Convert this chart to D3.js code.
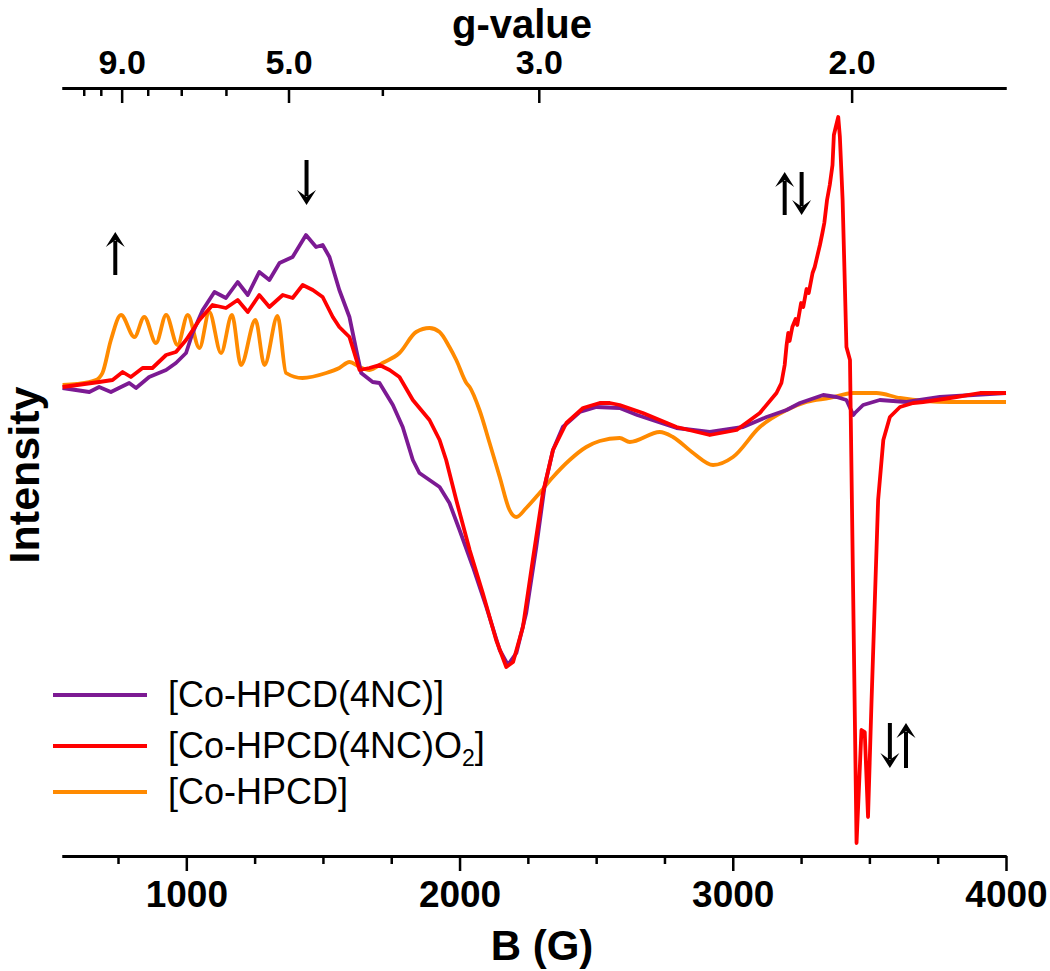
<!DOCTYPE html>
<html><head><meta charset="utf-8">
<script src="https://cdn.jsdelivr.net/npm/d3@7"></script>
<style>body{margin:0;background:#fff}svg{display:block}</style>
</head><body>
<svg id="chart" width="1050" height="971"></svg>
<script>
// ---------- data ----------
const fieldDomain = [545, 4000];          // B (G)
const intensityDomain = [-470, 297];      // arbitrary units
const bTicksMajor = [1000, 2000, 3000, 4000];
const bTicksMinor = [750, 1250, 1500, 1750, 2250, 2500, 2750, 3250, 3500, 3750];
const gConstant = 6870;                   // B = gConstant / g
const gTicksMajor = [9, 5, 3, 2];
const gTicksMinor = [11, 10, 8, 7, 6, 4];
const seriesNames = ["[Co-HPCD(4NC)]", "[Co-HPCD(4NC)O2]", "[Co-HPCD]"];
const seriesColors = ["#7c1a93", "#ff0000", "#ff8a00"];

const purpleData = [
 [547,-3],[645,-7],[681,-2],[724,-7],[761,-2],[791,2],[816,-3],[864,8],[926,15],[962,22],
 [999,32],[1023,52],[1060,75],[1103,93],[1145,87],[1188,103],[1225,90],[1267,113],[1304,105],
 [1341,122],[1389,128],[1438,150],[1475,138],[1499,140],[1524,128],[1560,95],[1597,68],
 [1622,35],[1640,12],[1682,3],[1707,2],[1756,-20],[1792,-42],[1829,-75],[1853,-88],[1890,-95],
 [1927,-102],[1963,-118],[2000,-145],[2049,-182],[2098,-222],[2147,-265],[2177,-280],
 [2208,-268],[2244,-228],[2281,-162],[2311,-102],[2342,-65],[2378,-42],[2440,-27],[2501,-22],
 [2586,-23],[2650,-30],[2794,-43],[2916,-47],[3038,-42],[3124,-32],[3197,-25],[3246,-18],
 [3331,-10],[3380,-12],[3416,-15],[3441,-30],[3447,-28],[3477,-20],[3538,-15],[3636,-17],
 [3758,-12],[3880,-10],[4000,-8]
];
const redData = [
 [547,-2],[681,3],[730,5],[767,13],[797,8],[840,17],[876,17],[926,30],[962,33],[999,45],
 [1048,65],[1096,80],[1145,77],[1188,85],[1225,73],[1267,90],[1304,78],[1353,90],[1389,87],
 [1426,100],[1463,95],[1499,88],[1536,68],[1560,58],[1597,48],[1615,32],[1634,15],[1670,17],
 [1707,20],[1744,15],[1780,8],[1829,-15],[1890,-35],[1927,-55],[1951,-75],[1988,-115],
 [2037,-165],[2085,-208],[2134,-255],[2171,-282],[2196,-277],[2232,-242],[2268,-175],
 [2305,-108],[2342,-65],[2391,-38],[2452,-23],[2513,-18],[2550,-18],[2586,-20],[2671,-28],
 [2794,-42],[2916,-50],[3014,-45],[3099,-28],[3160,-8],[3178,2],[3190,20],[3197,40],[3203,52],
 [3208,44],[3218,58],[3230,66],[3236,60],[3250,82],[3258,78],[3270,96],[3278,92],[3292,112],
 [3300,118],[3312,132],[3319,140],[3328,152],[3335,162],[3345,185],[3355,200],[3365,220],
 [3370,250],[3377,258],[3386,268],[3392,248],[3402,185],[3410,102],[3416,38],[3426,28],
 [3429,25],[3453,-458],[3471,-345],[3483,-347],[3495,-432],[3508,-315],[3520,-215],[3532,-115],
 [3551,-55],[3575,-32],[3612,-22],[3660,-18],[3697,-17],[3819,-12],[3905,-8],[4000,-8]
];
const orangeData = [
 [547,0],[600,1],[669,5],[693,12],[724,45],[761,70],[810,48],[846,68],[889,42],[926,70],
 [968,40],[1005,70],[1048,37],[1084,73],[1127,32],[1167,70],[1200,20],[1253,65],[1286,20],
 [1334,69],[1365,12],[1425,7],[1512,12],[1560,17],[1597,23],[1634,18],[1670,15],[1718,22],
 [1780,32],[1841,53],[1890,57],[1927,53],[1963,38],[1988,25],[2025,2],[2037,-2],[2073,-25],
 [2110,-58],[2147,-92],[2183,-125],[2208,-132],[2244,-123],[2293,-108],[2342,-92],[2403,-75],
 [2464,-62],[2513,-56],[2586,-53],[2623,-57],[2733,-47],[2781,-52],[2855,-68],[2928,-80],
 [3001,-72],[3099,-42],[3197,-25],[3270,-17],[3355,-13],[3441,-8],[3526,-8],[3612,-13],
 [3795,-17],[4000,-17]
];
// arrows: field position, start intensity, tip intensity
const arrowData = [
 [740, 110, 153], [1440, 225, 180],
 [3190, 170, 213], [3252, 213, 170],
 [3575, -338, -383], [3634, -383, -338]
];

// ---------- drawing ----------
const svg = d3.select("#chart");
const font = "'Liberation Sans', Arial, sans-serif";
const x = d3.scaleLinear().domain(fieldDomain).range([62, 1006]);
const y = d3.scaleLinear().domain(intensityDomain).range([855, 88]);

const line = d3.line().x(d => x(d[0])).y(d => y(d[1]));
const smooth = d3.line().x(d => x(d[0])).y(d => y(d[1])).curve(d3.curveMonotoneX);

const plot = svg.append("g");
plot.append("path").datum(orangeData).attr("d", smooth)
  .attr("fill","none").attr("stroke",seriesColors[2]).attr("stroke-width",3.8).attr("stroke-linejoin","round");
plot.append("path").datum(purpleData).attr("d", line)
  .attr("fill","none").attr("stroke",seriesColors[0]).attr("stroke-width",3.8).attr("stroke-linejoin","round");
plot.append("path").datum(redData).attr("d", line)
  .attr("fill","none").attr("stroke",seriesColors[1]).attr("stroke-width",3.8).attr("stroke-linejoin","round");

// axes
function styleAxis(g){
  g.select(".domain").attr("stroke","#000").attr("stroke-width",3);
  g.selectAll(".tick line").attr("stroke","#000").attr("stroke-width",2.5);
  g.selectAll("text").attr("font-family",font).attr("font-weight","bold").attr("fill","#000");
}
const bottomMinor = svg.append("g").attr("transform","translate(0,856)")
  .call(d3.axisBottom(x).tickValues(bTicksMinor).tickSize(8).tickSizeOuter(0).tickFormat(""));
styleAxis(bottomMinor);
const bottomMajor = svg.append("g").attr("transform","translate(0,856)")
  .call(d3.axisBottom(x).tickValues(bTicksMajor).tickSize(15).tickSizeOuter(0).tickPadding(10).tickFormat(d3.format("d")));
styleAxis(bottomMajor);
bottomMajor.selectAll("text").attr("font-size",37);

const topMinor = svg.append("g").attr("transform","translate(0,88)")
  .call(d3.axisTop(x).tickValues(gTicksMinor.map(g => gConstant/g)).tickSize(-8).tickSizeOuter(0).tickFormat(""));
styleAxis(topMinor);
const topMajor = svg.append("g").attr("transform","translate(0,88)")
  .call(d3.axisTop(x).tickValues(gTicksMajor.map(g => gConstant/g)).tickSize(-15).tickSizeOuter(0).tickPadding(14)
    .tickFormat(b => (gConstant/b).toFixed(1)));
styleAxis(topMajor);
topMajor.selectAll("text").attr("font-size",34);

// axis titles
svg.append("text").attr("x",522).attr("y",38).attr("text-anchor","middle")
  .attr("font-family",font).attr("font-weight","bold").attr("font-size",40).text("g-value");
svg.append("text").attr("x",542).attr("y",960).attr("text-anchor","middle")
  .attr("font-family",font).attr("font-weight","bold").attr("font-size",42).text("B (G)");
svg.append("text").attr("transform","translate(39,475) rotate(-90)").attr("text-anchor","middle")
  .attr("font-family",font).attr("font-weight","bold").attr("font-size",43).text("Intensity");

// arrows
const arrows = svg.append("g");
arrowData.forEach(([b, v0, v1]) => {
  const ax = x(b), y0 = y(v0), y1 = y(v1);
  const dir = Math.sign(y1 - y0);
  const headL = 15, headW = 9.5;
  arrows.append("line").attr("x1",ax).attr("x2",ax).attr("y1",y0).attr("y2",y1 - dir*headL*0.6)
    .attr("stroke","#000").attr("stroke-width",4);
  arrows.append("path")
    .attr("d",`M${ax},${y1} L${ax-headW},${y1-dir*headL} L${ax},${y1-dir*headL*0.55} L${ax+headW},${y1-dir*headL} Z`)
    .attr("fill","#000");
});

// legend
const legendRows = [707, 758, 804];
const legend = svg.append("g");
seriesNames.forEach((name, i) => {
  const by = legendRows[i];
  legend.append("line").attr("x1",53).attr("x2",147).attr("y1",by-12).attr("y2",by-12)
    .attr("stroke",seriesColors[i]).attr("stroke-width",4);
  const t = legend.append("text").attr("x",168).attr("y",by)
    .attr("font-family",font).attr("font-size",36).attr("fill","#000");
  const m = name.match(/^(.*)O2\]$/);
  if (m) {
    t.append("tspan").text(m[1] + "O");
    t.append("tspan").attr("font-size",23).attr("dy",8).text("2");
    t.append("tspan").attr("dy",-8).text("]");
  } else t.text(name);
});
</script>
</body></html>
